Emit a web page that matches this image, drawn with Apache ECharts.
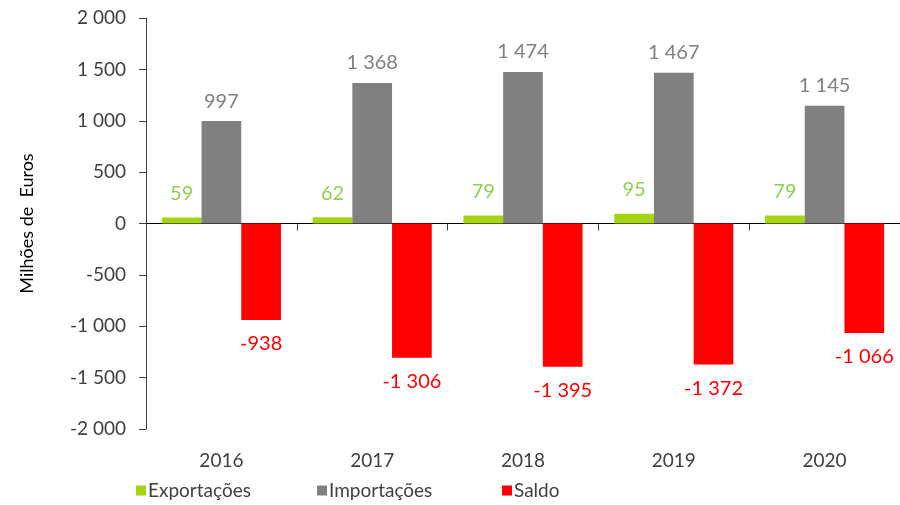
<!DOCTYPE html>
<html>
<head>
<meta charset="utf-8">
<script src="https://cdn.jsdelivr.net/npm/echarts@6/dist/echarts.min.js"></script>
<style>
  html, body { margin: 0; padding: 0; background: #fff; }
  #chart { width: 900px; height: 505px; }
</style>
</head>
<body>
<div id="chart"></div>
<script>
const years = ['2016', '2017', '2018', '2019', '2020'];
const exportacoes = [59, 62, 79, 95, 79];
const importacoes = [997, 1368, 1474, 1467, 1145];
const saldo = [-938, -1306, -1395, -1372, -1066];
const seriesNames = ['Exportações', 'Importações', 'Saldo'];

// espaço como separador de milhares
const fmt = function(v) {
    const s = String(Math.abs(v)).replace(/\B(?=(\d{3})+(?!\d))/g, ' ');
    return (v < 0 ? '-' : '') + s;
};

const font = 'Lato, "Liberation Sans", sans-serif';
const chart = echarts.init(document.getElementById('chart'));

// uma legenda por série, para reproduzir o espaçamento largo
const legendLeft = [131, 312, 497];
const legends = seriesNames.map((n, i) => ({
    bottom: 0,
    left: legendLeft[i],
    itemWidth: 10,
    itemHeight: 10,
    itemGap: 0,
    icon: 'rect',
    textStyle: { fontSize: 19, color: '#404040', fontFamily: font, padding: [0, 0, 0, -3] },
    data: [n]
}));

chart.setOption({
    animation: false,
    textStyle: { fontFamily: font },
    grid: { left: 146, right: -2, top: 18, bottom: 76, containLabel: false },
    legend: legends,
    xAxis: [{
        type: 'category',
        data: years,
        axisLine: { onZero: true, lineStyle: { color: '#000', width: 1 } },
        axisTick: { show: true, length: 7, lineStyle: { color: '#404040' } },
        axisLabel: { show: false }
    }, {
        type: 'category',
        data: years,
        position: 'bottom',
        axisLine: { show: false },
        axisTick: { show: false },
        axisLabel: { fontSize: 19, color: '#404040', margin: 22, fontFamily: font }
    }],
    yAxis: {
        type: 'value',
        min: -2000,
        max: 2000,
        interval: 500,
        name: 'Milhões de  Euros',
        nameLocation: 'middle',
        nameGap: 110,
        nameTextStyle: { fontSize: 18, color: '#000', fontFamily: font },
        axisLine: { show: true, lineStyle: { color: '#404040' } },
        axisTick: { show: true, length: 7, lineStyle: { color: '#404040' } },
        splitLine: { show: false },
        axisLabel: { fontSize: 19, color: '#404040', margin: 20, formatter: fmt, fontFamily: font }
    },
    series: [{
        name: 'Exportações',
        type: 'bar',
        data: exportacoes,
        barGap: '0%',
        barCategoryGap: '21%',
        itemStyle: { color: '#a5d414' },
        label: { show: true, position: 'top', distance: 14, fontSize: 20, color: '#92d050', formatter: p => fmt(p.value) }
    }, {
        name: 'Importações',
        type: 'bar',
        data: importacoes,
        itemStyle: { color: '#808080' },
        label: { show: true, position: 'top', distance: 10, fontSize: 20, color: '#808080', formatter: p => fmt(p.value) }
    }, {
        name: 'Saldo',
        type: 'bar',
        data: saldo,
        itemStyle: { color: '#ff0000' },
        label: { show: true, position: 'bottom', distance: 14, fontSize: 20, color: '#ff0000', formatter: p => fmt(p.value) }
    }]
});
</script>
</body>
</html>
